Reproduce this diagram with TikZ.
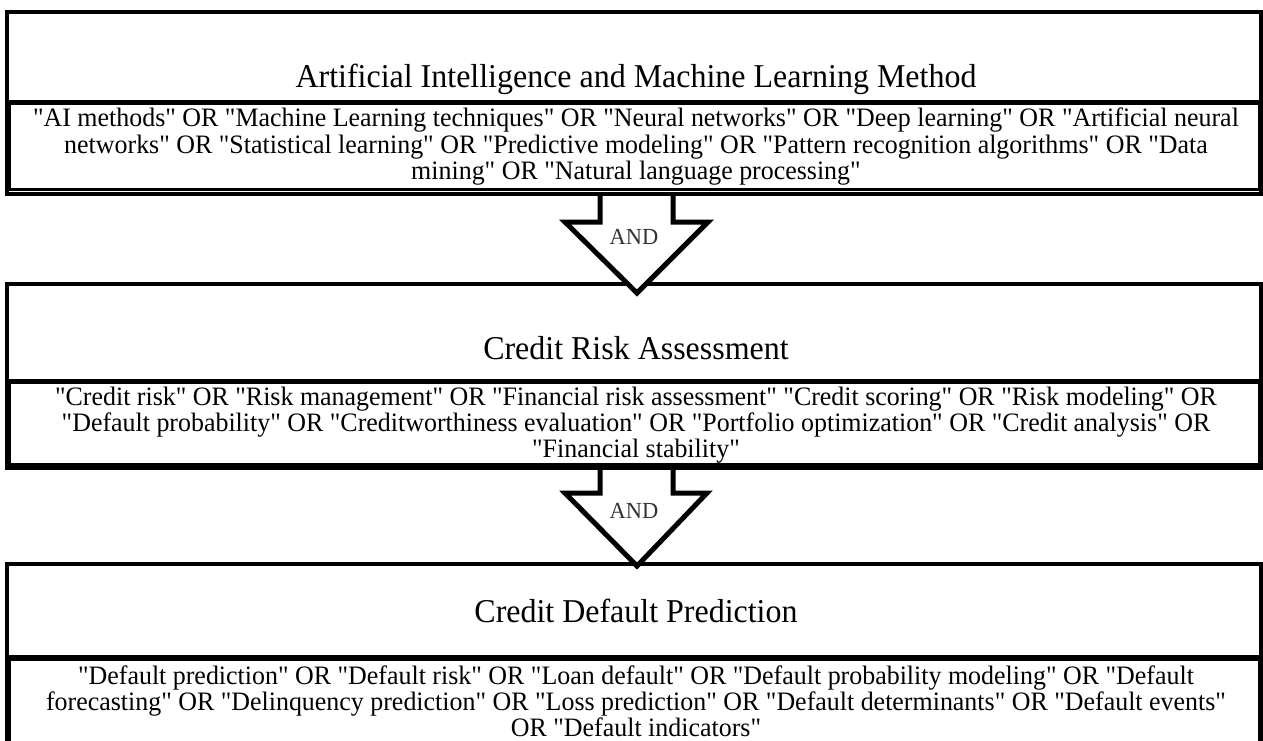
\documentclass[tikz,border=0pt]{standalone}
\usepackage{fontspec}
\setmainfont{Liberation Serif}[Ligatures=TeXOff]
\newfontfamily\bodyfont{Liberation Serif}[Ligatures=TeXOff, FakeStretch=0.975]
\newfontfamily\titlefont{Liberation Serif}[Ligatures=TeXOff, FakeStretch=0.96]
\usetikzlibrary{calc}
\begin{document}
\begin{tikzpicture}[x=1pt,y=-1pt,
  boxline/.style={line width=4pt},
  innerline/.style={line width=3pt},
  titletext/.style={font=\titlefont\fontsize{33.3}{36}\selectfont, inner sep=0pt},
  bodytext/.style={font=\bodyfont\fontsize{26.6}{26.5}\selectfont, align=center, inner sep=0pt},
  blockarrow/.style={line width=5pt, line join=miter, fill=white},
  andlabel/.style={font=\bodyfont\fontsize{23}{24}\selectfont, text=black!80, inner sep=0pt}]
\useasboundingbox (0,0) rectangle (1263,740);
\fill[white] (0,0) rectangle (1263,740);

% box 1
\draw[boxline] (7,12) rectangle (1261,194);
\draw[innerline] (9.5,103.5) rectangle (1259.5,189);
\draw[innerline] (7,101) -- (1261,101);
\coordinate (b1s) at (637,194);
\node[titletext] (t1) at (636,79) {Artificial Intelligence and Machine Learning Method};
\node[bodytext] (k1) at (636,146.5) {"AI methods" OR "Machine Learning techniques" OR "Neural networks" OR "Deep learning" OR "Artificial neural\\
networks" OR "Statistical learning" OR "Predictive modeling" OR "Pattern recognition algorithms" OR "Data\\
mining" OR "Natural language processing"};

% box 2
\draw[boxline] (7,284) rectangle (1261,468);
\draw[innerline] (9.5,382.5) rectangle (1259.5,464);
\draw[innerline] (7,380) -- (1261,380);
\coordinate (b2n) at (637,284);
\coordinate (b2s) at (637,468);
\node[titletext] (t2) at (636,348) {Credit Risk Assessment};
\node[bodytext, font=\bodyfont\fontsize{26.6}{26}\selectfont] (k2) at (636,425.5) {"Credit risk" OR "Risk management" OR "Financial risk assessment" "Credit scoring" OR "Risk modeling" OR\\
"Default probability" OR "Creditworthiness evaluation" OR "Portfolio optimization" OR "Credit analysis" OR\\
"Financial stability"};

% box 3
\draw[boxline] (7,564) rectangle (1261,780);
\draw[innerline] (9.5,659) rectangle (1259.5,775);
\draw[innerline] (7,656.5) -- (1261,656.5);
\coordinate (b3n) at (637,564);
\node[titletext] (t3) at (636,611) {Credit Default Prediction};
\node[bodytext, font=\bodyfont\fontsize{26.6}{26}\selectfont] (k3) at (636,701.5) {"Default prediction" OR "Default risk" OR "Loan default" OR "Default probability modeling" OR "Default\\
forecasting" OR "Delinquency prediction" OR "Loss prediction" OR "Default determinants" OR "Default events"\\
OR "Default indicators"};

% arrow 1
\draw[blockarrow] ($(b1s)+(-37,0)$) -- ($(b1s)+(-37,28)$) -- ($(b1s)+(-72,28)$)
  -- ($(b2n)+(0,9)$) -- ($(b1s)+(71,28)$) -- ($(b1s)+(36,28)$) -- ($(b1s)+(36,0)$);
\draw[boxline] ($(b1s)+(-40,0)$) -- ($(b1s)+(39,0)$);
\node[andlabel] (and1) at (634,237) {AND};

% arrow 2
\draw[blockarrow] ($(b2s)+(-37,0)$) -- ($(b2s)+(-37,25)$) -- ($(b2s)+(-72,25)$)
  -- ($(b3n)+(0,2)$) -- ($(b2s)+(70,25)$) -- ($(b2s)+(36,25)$) -- ($(b2s)+(36,0)$);
\draw[boxline] ($(b2s)+(-40,0)$) -- ($(b2s)+(39,0)$);
\node[andlabel] (and2) at (634,511) {AND};
\end{tikzpicture}
\end{document}
